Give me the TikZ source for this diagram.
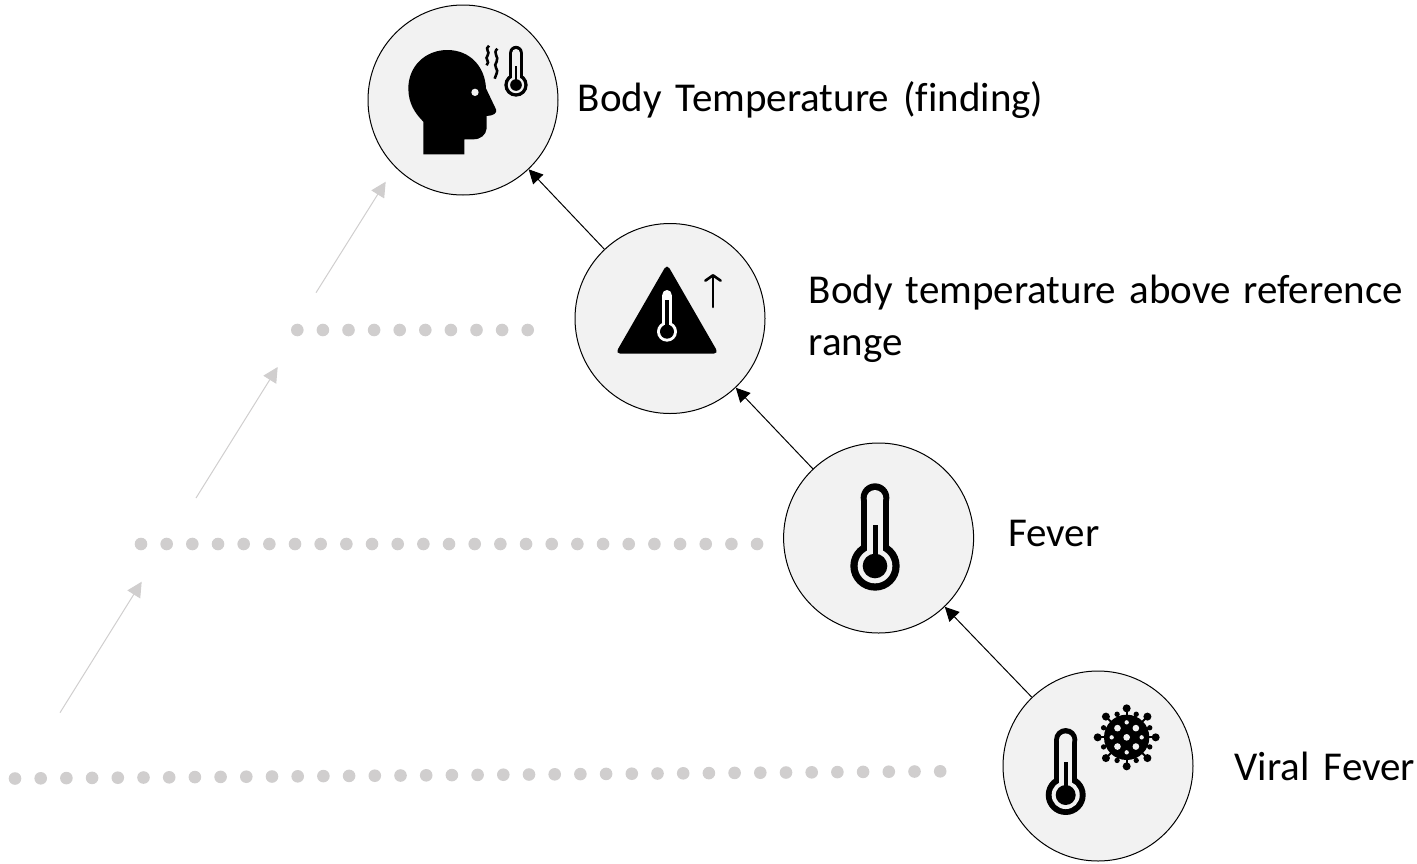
\documentclass[tikz,border=0pt]{standalone}
\usepackage{fontspec}
\setmainfont{Carlito}[Ligatures=NoCommon]
\usepackage{xcolor}
\usetikzlibrary{arrows.meta,positioning}
\definecolor{stagefill}{HTML}{F2F2F2}
\definecolor{faded}{HTML}{D0CECE}
\newcommand{\capfont}{\fontsize{41}{52}\selectfont\spaceskip 14pt plus 8pt minus 6pt\relax}

\tikzset{
  thermo/.pic={
    \fill[black] (0,0) circle (74);
    \fill[black] (0,-205) circle (43);
    \fill[black] (-43,-205) rectangle (43,0);
    \fill[stagefill] (0,0) circle (52);
    \fill[stagefill] (0,-203) circle (25);
    \fill[stagefill] (-25,-203) rectangle (25,0);
    \fill[black] (0,0) circle (37);
    \fill[black] (-7.5,-123) rectangle (7.5,0);
  }
}

\begin{document}
\begin{tikzpicture}[
  x=1pt,y=-1pt,
  stage/.style={circle,draw=black,fill=stagefill,minimum size=190pt,inner sep=0pt,line width=1pt},
  caption/.style={inner sep=0pt,font=\capfont},
  flow/.style={-{Triangle[length=14pt,width=14pt]},draw=black,line width=1pt},
  ghost/.style={-{Triangle[length=15pt,width=15pt]},draw=faded,line width=1pt},
  squiggle/.style={draw=black,line width=2.6pt},
]
\useasboundingbox (0,0) rectangle (1417,863);

\node[stage] (temp) at (463,100) {};
\node[stage] (above) at (670,318.5) {};
\node[stage] (fever) at (878.6,538) {};
\node[stage] (viral) at (1098,766) {};

\node[caption,right=19pt of temp] (templabel) {Body Temperature (finding)};
\node[caption,right=43pt of above,align=left] (abovelabel) {\makebox[594pt][s]{Body temperature above reference}\\range};
\node[caption,right=34pt of fever,yshift=5pt] (feverlabel) {Fever};
\node[caption,right=41pt of viral] (virallabel) {Viral Fever};

\draw[flow] (above) -- (temp);
\draw[flow] (fever) -- (above);
\draw[flow] (viral) -- (fever);

% levels that are left out
\foreach \i in {0,...,9} \fill[faded] ({297.3+25.6*\i},330) circle (6.3);
\foreach \i in {0,...,24} \fill[faded] ({141+25.67*\i},544) circle (6.3);
\foreach \i in {0,...,36} \fill[faded] ({15+25.7*\i},{778.5-0.2*\i}) circle (6.3);

\coordinate (from1) at (316,292.7);
\coordinate (to1) at (385.7,181.7);
\coordinate (from2) at (196,498);
\coordinate (to2) at (277.7,367);
\coordinate (from3) at (60,712.7);
\coordinate (to3) at (141.7,581.7);
\draw[ghost] (from1) -- (to1);
\draw[ghost] (from2) -- (to2);
\draw[ghost] (from3) -- (to3);

% head
\begin{scope}[shift={(360,0)},scale=1/3]
  \fill[black] (190,463) -- (190,365) .. controls (165,340) and (145,310) .. (145,265)
    .. controls (145,200) and (195,150) .. (262,150)
    .. controls (330,150) and (375,200) .. (378,265) -- (408,328)
    .. controls (412,340) and (400,347) .. (380,348) -- (380,385)
    .. controls (378,405) and (362,418) .. (340,418) -- (313,418) -- (313,463) -- cycle;
  \fill[stagefill] (345,277) circle (11);
  \draw[squiggle] (387,137) .. controls (372,148) and (392,155) .. (383,166)
    .. controls (372,178) and (392,182) .. (380,196);
  \draw[squiggle] (412,146) .. controls (397,160) and (418,170) .. (410,185)
    .. controls (397,198) and (418,210) .. (410,220) .. controls (405,226) .. (404,236);
\end{scope}
\pic[scale=.158] at (516,85) {thermo};

% warning sign
\begin{scope}[shift={(570,215)},scale=1/3]
  \fill[black,rounded corners=5pt] (291,147) -- (446,416) -- (136,416) -- cycle;
  \fill[white] (291,350) circle (30);
  \fill[white] (291,239) circle (14);
  \fill[white] (277,239) rectangle (305,350);
  \fill[black] (291,350) circle (21);
  \fill[black] (286,255) rectangle (296,350);
  \draw[squiggle,line cap=round,line join=round] (429,276) -- (429,181);
  \draw[squiggle,line cap=round,line join=round] (406,197) -- (429,181) -- (452,197);
\end{scope}

\pic[scale=1/3] at (875,566) {thermo};

% virus
\pic[scale=.27] at (1065.7,795) {thermo};
\begin{scope}[shift={(995,665)},scale=1/3]
  \begin{scope}[shift={(395,217)}]
    \fill[black] (0,0) circle (68);
    \foreach \a/\r in {0/87,90/87,180/87,270/87,45/88,135/88,225/88,315/88} {
      \draw[black,line width=2pt] (0,0) -- (\a:\r);
      \fill[black] (\a:\r) circle (12);
    }
    \foreach \a in {22.5,67.5,...,337.5} {
      \draw[black,line width=1.8pt] (0,0) -- (\a:75);
      \fill[black] (\a:75) circle (8);
    }
    \fill[stagefill] (0,0) circle (10);
    \foreach \a in {45,135,225,315} \fill[stagefill] (\a:39) circle (10);
    \foreach \a in {0,90,180,270} \fill[stagefill] (\a:45) circle (6.5);
  \end{scope}
\end{scope}
\end{tikzpicture}
\end{document}
